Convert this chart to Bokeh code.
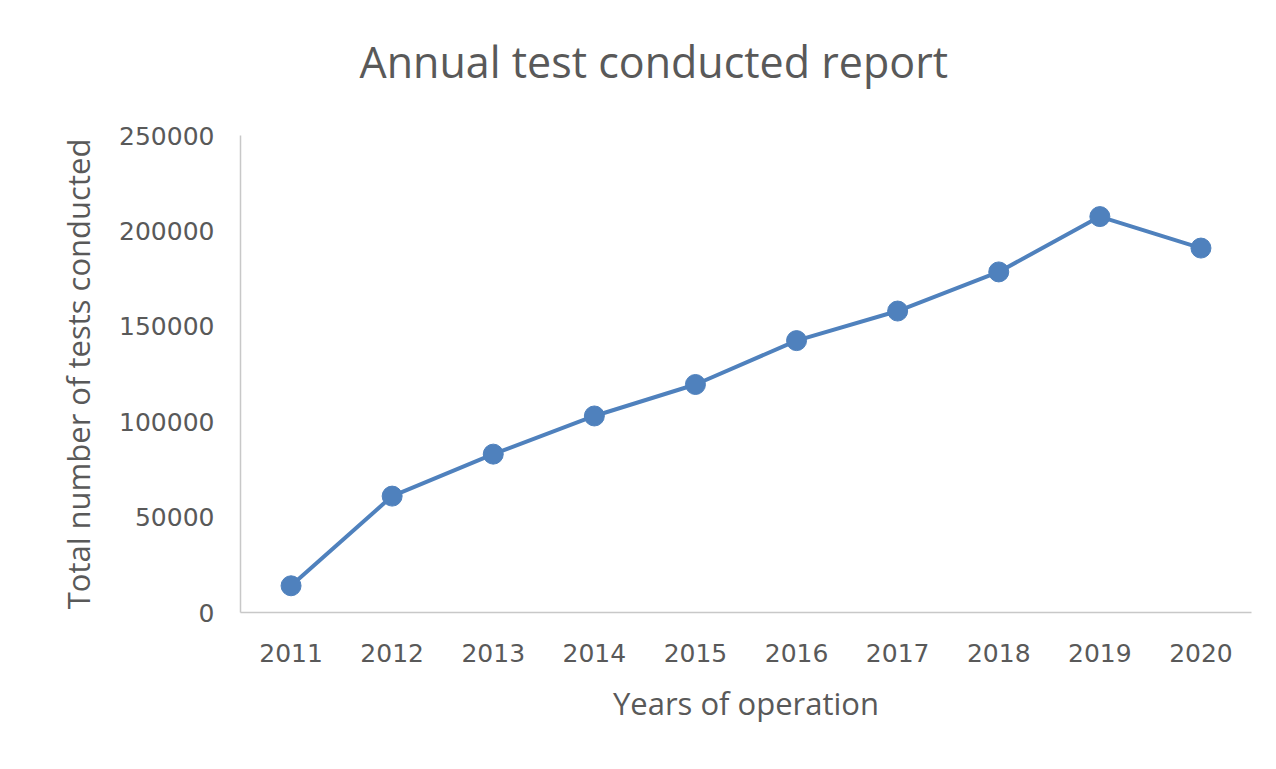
from bokeh.plotting import figure
from bokeh.models import Range1d, FixedTicker, BasicTickFormatter, Title
from bokeh.embed import file_html
from bokeh.resources import INLINE

years = ["2011", "2012", "2013", "2014", "2015", "2016", "2017", "2018", "2019", "2020"]
tests = [14000, 61000, 83000, 103000, 119500, 142500, 158000, 178500, 207500, 191000]
y_ticks = [0, 50000, 100000, 150000, 200000, 250000]

title_text = "Annual test conducted report"
x_title = "Years of operation"
y_title = "Total number of tests conducted"

TEXT = "#595959"
BLUE = "#4F81BD"
AXIS = "#C8C8C8"

p = figure(
    x_range=years,
    y_range=Range1d(0, 250000),
    frame_width=1011, frame_height=477,
    min_border_left=240, min_border_right=9,
    min_border_top=135, min_border_bottom=141,
    output_backend="svg", toolbar_location=None,
    background_fill_color="white", border_fill_color="white",
)
p.outline_line_color = None
p.xgrid.grid_line_color = None
p.ygrid.grid_line_color = None

p.title.text = title_text
p.title.align = "left"
p.title.offset = 119
p.title.vertical_align = "bottom"
p.title.text_font = "Open Sans"
p.title.text_font_style = "normal"
p.title.text_font_size = "43px"
p.title.text_color = TEXT
p.title.standoff = 0

# empty spacer between the frame and the title
spacer = Title(text=" ", text_font_size="1px", standoff=42, text_color="white")
p.add_layout(spacer, "above")

p.line(years, tests, line_color=BLUE, line_width=4)
p.scatter(years, tests, size=20, fill_color=BLUE, line_color=BLUE)

for ax in (p.xaxis[0], p.yaxis[0]):
    ax.axis_line_color = AXIS
    ax.axis_line_width = 1.5
    ax.major_tick_line_color = None
    ax.minor_tick_line_color = None
    ax.major_tick_in = 0
    ax.major_tick_out = 0
    ax.minor_tick_in = 0
    ax.minor_tick_out = 0
    ax.major_label_text_font = "DejaVu Sans"
    ax.major_label_text_font_size = "25px"
    ax.major_label_text_color = TEXT
    ax.axis_label_text_font = "Open Sans"
    ax.axis_label_text_font_style = "normal"
    ax.axis_label_text_font_size = "31px"
    ax.axis_label_text_color = TEXT

p.yaxis[0].ticker = FixedTicker(ticks=y_ticks)
p.yaxis[0].formatter = BasicTickFormatter(use_scientific=False)
p.yaxis[0].major_label_standoff = 26
p.xaxis[0].major_label_standoff = 31
p.xaxis[0].axis_label = x_title
p.yaxis[0].axis_label = y_title
p.xaxis[0].axis_label_standoff = 17
p.yaxis[0].axis_label_standoff = 17

open("out.html", "w").write(file_html(p, INLINE))
